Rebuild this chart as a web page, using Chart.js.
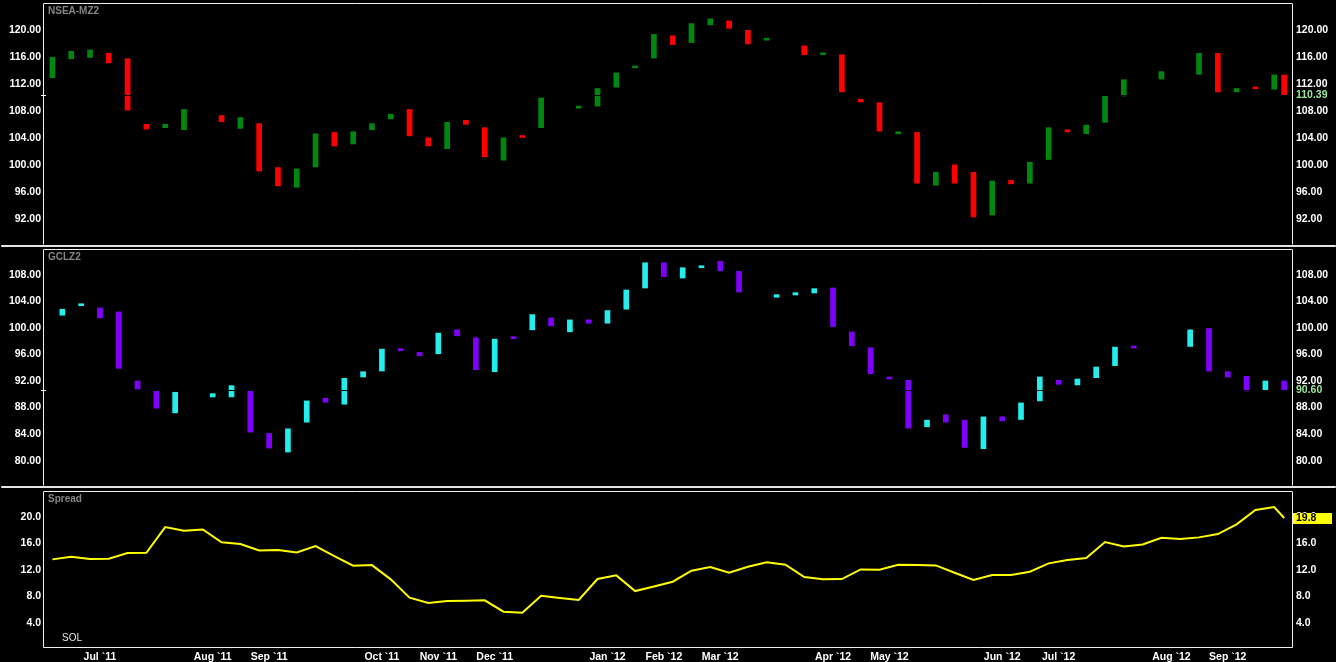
<!DOCTYPE html>
<html>
<head>
<meta charset="utf-8">
<script src="https://cdn.jsdelivr.net/npm/chart.js@4.4.1/dist/chart.umd.min.js"></script>
<style>
  html, body { margin: 0; background: #000; width: 1336px; height: 662px; overflow: hidden; }
  canvas { position: absolute; left: 0; }
  .sep { position: absolute; left: 1px; width: 1335px; height: 2px; background: #e4e4e4; border-radius: 1px; z-index: 2; }
</style>
</head>
<body>
<canvas id="c1" width="1336" height="245" style="top:0"></canvas>
<canvas id="c2" width="1336" height="240" style="top:247px"></canvas>
<canvas id="c3" width="1336" height="174" style="top:488px"></canvas>
<div class="sep" style="top:245px"></div>
<div class="sep" style="top:486px"></div>
<script>
(function() {

    // weekly bars, week 66 is the unfinished current week
    const partialWeek = 65.53;
    // GCLZ2 bars and the month labels sit half a slot to the right
    const midShift = 0.53;

    const nseaOpen = [112.9, 115.7, 115.9, 116.5, 115.7, 106.0, 105.5, 105.2, null, 107.3,
        105.4, 106.1, 99.6, 96.7, 99.7, 104.8, 103.1, 105.2, 106.8, 108.2,
        104.0, 102.4, 106.6, 105.5, 100.7, 104.15, 105.5, null, 108.4, 108.7,
        111.5, 114.35, 115.8, 119.1, 118.1, 120.7, 121.3, 119.9, 118.45, null,
        117.6, 116.3, 116.3, 109.7, 109.2, 104.6, 104.8, 97.0, 100.0, 98.9,
        92.6, 97.7, 97.3, 100.8, 105.0, 104.6, 106.3, 110.2, null, 112.7,
        null, 113.4, 116.5, 110.8, 111.35, 111.2, 113.3];
    const nseaClose = [115.9, 116.8, 117.0, 115.1, 108.1, 105.3, 106.0, 108.2, null, 106.4,
        107.0, 99.1, 96.9, 99.4, 104.6, 102.8, 104.9, 106.1, 107.5, 104.3,
        102.8, 106.3, 106.0, 101.2, 104.0, 104.05, 109.9, null, 108.55, 111.3,
        113.6, 114.5, 119.3, 117.8, 120.9, 121.6, 120.2, 117.9, 118.6, null,
        116.3, 116.4, 110.8, 109.3, 105.0, 104.75, 97.3, 98.9, 97.3, 92.3,
        97.6, 97.2, 100.4, 105.5, 104.9, 105.9, 110.2, 112.6, null, 113.8,
        null, 116.5, 110.8, 111.3, 111.25, 113.3, 110.39];

    const gclzOpen = [101.9, 103.33, 103.0, 102.4, 92.0, 90.6, 87.2, null, 89.6, 89.6,
        90.5, 84.1, 81.3, 85.8, 89.4, 88.5, 92.6, 93.5, 96.66, 96.3,
        96.1, 99.7, 98.5, 93.4, 98.47, 99.7, 101.5, 99.4, 101.2, 100.7,
        102.8, 106.0, 109.8, 107.5, 109.05, 110.0, 108.5, null, 104.6, 104.95,
        105.25, 106.0, 99.4, 97.0, 92.4, 92.1, 85.1, 86.9, 86.1, 81.8,
        86.6, 86.2, 89.0, 92.1, 91.4, 92.5, 94.3, 97.26, null, null,
        97.2, 99.9, 93.4, 92.7, 90.6, 92.0];
    const gclzClose = [102.8, 103.43, 101.5, 93.9, 90.8, 87.9, 90.3, null, 90.1, 91.3,
        84.3, 81.9, 84.8, 89.0, 88.8, 92.4, 93.4, 96.8, 96.56, 95.8,
        99.2, 98.8, 93.7, 98.3, 98.37, 102.0, 100.3, 101.2, 100.7, 102.6,
        105.7, 109.8, 107.7, 109.05, 109.15, 108.6, 105.4, null, 105.0, 105.3,
        105.9, 100.2, 97.3, 93.1, 92.3, 84.9, 86.1, 85.8, 82.0, 86.6,
        86.0, 88.7, 92.6, 91.5, 92.3, 94.1, 97.1, 96.96, null, null,
        99.7, 93.5, 92.6, 90.5, 92.0, 90.6];

    const spread = [13.58, 13.98, 13.63, 13.68, 14.53, 14.58, 18.44, 17.89, 18.09, 16.14,
        15.89, 14.93, 14.98, 14.63, 15.58, 14.08, 12.62, 12.72, 10.57, 7.81,
        7.0, 7.3, 7.36, 7.41, 5.7, 5.55, 8.11, 7.76, 7.46, 10.62,
        11.17, 8.81, 9.51, 10.22, 11.87, 12.42, 11.57, 12.47, 13.13, 12.77,
        10.92, 10.57, 10.62, 12.07, 12.02, 12.77, 12.72, 12.67, 11.57, 10.47,
        11.22, 11.22, 11.72, 12.98, 13.48, 13.78, 16.19, 15.53, 15.83, 16.84,
        16.64, 16.89, 17.39, 18.85, 21.0, 21.46, 19.8];

    const monthWeeks = [2, 8, 11, 17, 20, 23, 29, 32, 35, 41, 44, 50, 53, 59, 62];
    const monthLabels = ['Jul `11', 'Aug `11', 'Sep `11', 'Oct `11', 'Nov `11', 'Dec `11', 'Jan `12',
        'Feb `12', 'Mar `12', 'Apr `12', 'May `12', 'Jun `12', 'Jul `12', 'Aug `12', 'Sep `12'];

    const nseaTicks = [92, 96, 100, 104, 108, 112, 116, 120];
    const gclzTicks = [80, 84, 88, 92, 96, 100, 104, 108];
    const spreadTicks = [4, 8, 12, 16, 20];

    Chart.defaults.font.family = '"Liberation Sans", Arial, sans-serif';
    Chart.defaults.font.size = 10.5;
    Chart.defaults.font.weight = 'bold';
    Chart.defaults.color = '#fff';

    const topX = i => (i < 66 ? i : partialWeek);
    const midX = i => i + midShift;

    function candles(open, close, xOf, up, down) {
        const pts = [];
        open.forEach((o, i) => {
            if (o === null) return;
            pts.push({ x: xOf(i), y: [o, close[i]] });
        });
        return {
            data: pts,
            barThickness: 5,
            minBarLength: 2,
            borderWidth: 0,
            backgroundColor: c => (c.raw && c.raw.y[1] >= c.raw.y[0] ? up : down)
        };
    }

    const hiddenX = { type: 'linear', min: -0.5, max: 66, offset: false, display: false };

    function yAxis(pos, min, max, ticks, dec) {
        return {
            type: 'linear', position: pos, min: min, max: max, offset: false,
            grid: { display: false, drawTicks: false },
            border: { display: false },
            afterBuildTicks: s => { s.ticks = ticks.map(v => ({ value: v })); },
            afterFit: s => { s.width = 43; s.paddingTop = 0; s.paddingBottom = 0; },
            ticks: { color: '#fff', padding: pos === 'left' ? 2 : 3, autoSkip: false, callback: v => v.toFixed(dec) }
        };
    }

    function options(xAxis, min, max, ticks, dec, padTop, padBottom) {
        return {
            responsive: false,
            animation: false,
            devicePixelRatio: 1,
            layout: { padding: { left: 0, right: 0, top: padTop, bottom: padBottom } },
            plugins: { legend: { display: false }, tooltip: { enabled: false } },
            scales: {
                x: xAxis,
                y: yAxis('left', min, max, ticks, dec),
                y2: yAxis('right', min, max, ticks, dec)
            }
        };
    }

    function decor(o) {
        return {
            id: 'decor',
            afterDatasetsDraw(chart) {
                if (!o.notch) return;
                const { ctx, chartArea: a, scales: { y } } = chart;
                const py = Math.round(y.getPixelForValue(o.last)) + 0.5;
                ctx.save();
                ctx.strokeStyle = '#000';
                ctx.lineWidth = 1;
                ctx.beginPath();
                ctx.moveTo(a.left, py);
                ctx.lineTo(a.right, py);
                ctx.stroke();
                ctx.restore();
            },
            afterDraw(chart) {
                const { ctx, chartArea: a, scales: { y } } = chart;
                ctx.save();
                ctx.strokeStyle = '#f0f0f0';
                ctx.lineWidth = 1;
                ctx.beginPath();
                ctx.moveTo(a.left + 0.5, a.bottom - 0.5);
                ctx.lineTo(a.left + 0.5, a.top + 0.5);
                ctx.lineTo(a.right - 0.5, a.top + 0.5);
                ctx.lineTo(a.right - 0.5, a.bottom - 0.5);
                if (o.closed) ctx.closePath();
                ctx.stroke();

                ctx.font = 'bold 10px "Liberation Sans", Arial, sans-serif';
                ctx.fillStyle = '#858585';
                ctx.textAlign = 'left';
                ctx.textBaseline = 'middle';
                ctx.fillText(o.title, a.left + 5, a.top + 8.5);

                const py = Math.round(y.getPixelForValue(o.last));
                ctx.font = 'bold 10.5px "Liberation Sans", Arial, sans-serif';
                if (o.box) {
                    ctx.fillStyle = o.box;
                    ctx.fillRect(a.right, py - 5, 39, 11);
                    ctx.fillStyle = '#000';
                } else {
                    ctx.fillStyle = o.color;
                    ctx.strokeStyle = '#fff';
                    ctx.beginPath();
                    ctx.moveTo(a.left - 2, py + 0.5);
                    ctx.lineTo(a.left + 3, py + 0.5);
                    ctx.stroke();
                }
                ctx.fillText(o.lastText, a.right + 3, py + 0.5);

                if (o.note) {
                    ctx.font = '10px "Liberation Sans", Arial, sans-serif';
                    ctx.fillStyle = '#e6e6e6';
                    ctx.fillText(o.note, a.left + 19, a.bottom - 9.5);
                }
                ctx.restore();
            }
        };
    }

    new Chart(document.getElementById('c1'), {
        type: 'bar',
        data: { datasets: [candles(nseaOpen, nseaClose, topX, '#00870f', '#ff0000')] },
        options: options(hiddenX, 88.15, 123.95, nseaTicks, 2, 3, 0),
        plugins: [decor({ title: 'NSEA-MZ2', last: nseaClose[66], lastText: '110.39', color: '#9be89b', notch: true })]
    });

    new Chart(document.getElementById('c2'), {
        type: 'bar',
        data: { datasets: [candles(gclzOpen, gclzClose, midX, '#22eeee', '#7f00ff')] },
        options: options(hiddenX, 76.19, 111.87, gclzTicks, 2, 2, 1),
        plugins: [decor({ title: 'GCLZ2', last: gclzClose[65], lastText: '90.60', color: '#9be89b', notch: true })]
    });

    const monthX = {
        type: 'linear', min: -0.5, max: 66, offset: false,
        grid: { display: false, drawTicks: false },
        border: { display: false },
        afterBuildTicks: s => { s.ticks = monthWeeks.map(w => ({ value: w + midShift })); },
        afterFit: s => { s.height = 14; s.paddingLeft = 0; s.paddingRight = 0; },
        ticks: { color: '#fff', padding: 3, autoSkip: false, maxRotation: 0, callback: (v, i) => monthLabels[i] }
    };

    new Chart(document.getElementById('c3'), {
        type: 'line',
        data: {
            datasets: [{
                data: spread.map((v, i) => ({ x: topX(i), y: v })),
                borderColor: '#ffff00',
                borderWidth: 2,
                pointRadius: 0,
                tension: 0
            }]
        },
        options: options(monthX, 0.24, 23.87, spreadTicks, 1, 3, 0),
        plugins: [decor({ title: 'Spread', last: spread[66], lastText: '19.8', box: '#ffff00', closed: true, note: 'SOL' })]
    });

})();
</script>
</body>
</html>
